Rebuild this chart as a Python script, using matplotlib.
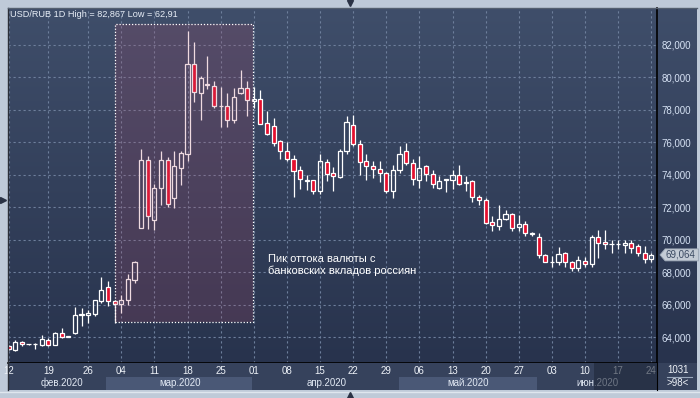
import matplotlib.pyplot as plt
import matplotlib.transforms as mtransforms
import numpy as np
from matplotlib.patches import Rectangle, Polygon

plt.rcParams['font.family'] = ['Liberation Sans', 'DejaVu Sans']

# OHLC, дневные свечи USD/RUB (12.02.2020 - 24.06.2020)
opens = [63.46, 63.20, 63.71, 63.57, 63.57, 63.53, 63.80, 63.53, 64.23, 64.00,
         64.23, 65.37, 65.34, 65.40, 66.23, 67.06, 66.23, 66.03, 66.28, 67.50,
         70.75, 74.89, 71.24, 73.21, 74.93, 72.60, 74.44, 75.30, 80.84, 79.06,
         79.55, 79.47, 78.24, 78.24, 77.37, 79.06, 79.37, 78.57, 78.69, 77.21,
         77.00, 76.06, 75.49, 75.00, 74.28, 73.62, 73.66, 73.03, 74.81, 74.09,
         73.86, 75.46, 77.09, 75.92, 74.83, 74.57, 74.38, 74.13, 73.00, 74.28,
         75.49, 74.73, 73.66, 74.52, 74.07, 73.21, 73.68, 73.66, 74.01, 73.50,
         73.64, 72.66, 72.45, 71.08, 70.85, 71.30, 71.61, 70.79, 70.95, 70.44,
         70.17, 69.05, 68.62, 68.60, 69.15, 68.63, 68.23, 68.70, 68.49, 70.14,
         69.83, 69.71, 69.71, 69.66, 69.77, 69.64, 69.19, 68.78]
highs = [63.50, 63.80, 63.75, 63.60, 63.62, 64.15, 63.95, 64.30, 64.57, 64.05,
         65.85, 65.77, 65.65, 66.30, 67.70, 67.46, 66.30, 66.60, 67.90, 68.69,
         75.60, 75.14, 73.46, 75.45, 75.10, 75.45, 75.45, 82.867, 82.20, 80.10,
         81.35, 79.75, 79.40, 79.03, 79.36, 80.43, 79.75, 79.40, 79.20, 77.91,
         77.50, 76.15, 76.00, 75.20, 74.52, 73.97, 73.70, 75.30, 75.00, 74.46,
         75.57, 77.60, 77.66, 76.15, 75.30, 74.85, 74.85, 74.20, 74.62, 75.80,
         75.95, 75.00, 75.15, 74.62, 74.30, 73.90, 73.70, 74.30, 74.60, 73.90,
         73.70, 72.75, 72.55, 71.45, 72.12, 71.80, 71.65, 71.50, 71.16, 70.50,
         70.40, 69.10, 68.98, 69.55, 69.25, 68.70, 68.98, 68.94, 70.30, 70.60,
         70.58, 69.97, 70.00, 70.00, 70.00, 69.75, 69.60, 69.15]
lows = [63.20, 63.15, 63.45, 63.50, 63.24, 63.45, 63.45, 63.50, 63.95, 63.98,
        64.20, 64.70, 64.85, 65.30, 66.10, 65.90, 64.88, 65.50, 65.95, 67.30,
        70.70, 70.65, 70.58, 72.12, 72.00, 71.95, 73.37, 74.85, 78.48, 77.35,
        79.30, 78.10, 76.94, 76.94, 77.19, 79.00, 77.62, 78.14, 77.10, 76.43,
        75.80, 74.98, 74.84, 72.63, 73.10, 73.05, 72.80, 72.84, 73.60, 73.00,
        73.80, 75.26, 75.75, 74.00, 73.70, 73.80, 73.55, 72.88, 72.57, 74.10,
        74.60, 73.40, 73.20, 73.60, 73.20, 73.15, 72.93, 73.10, 73.40, 73.00,
        72.30, 72.12, 70.95, 70.54, 70.60, 71.20, 70.54, 70.54, 70.20, 70.25,
        68.90, 68.60, 68.29, 68.45, 68.30, 68.08, 68.10, 68.30, 68.30, 68.90,
        69.45, 69.20, 69.44, 69.20, 69.20, 68.98, 68.55, 68.60]
closes = [63.26, 63.71, 63.57, 63.58, 63.58, 63.86, 63.53, 64.23, 64.02, 64.05,
          65.34, 65.38, 65.46, 66.28, 66.89, 66.23, 66.03, 66.28, 67.55, 68.60,
          74.89, 71.46, 73.21, 74.89, 72.23, 74.52, 75.37, 80.84, 79.10, 79.98,
          79.62, 78.22, 78.26, 77.37, 78.81, 79.37, 78.58, 78.69, 77.15, 76.53,
          75.96, 75.46, 75.00, 74.23, 73.74, 73.66, 72.98, 74.83, 74.03, 73.93,
          75.49, 77.25, 75.88, 74.79, 74.54, 74.38, 74.13, 73.00, 74.32, 75.30,
          74.73, 73.77, 74.42, 74.07, 73.46, 73.64, 73.72, 74.01, 73.46, 73.56,
          72.63, 72.46, 71.03, 70.89, 71.30, 71.61, 70.75, 70.95, 70.42, 70.32,
          69.05, 68.63, 68.64, 69.10, 68.63, 68.23, 68.74, 68.49, 70.14, 69.77,
          69.72, 69.73, 69.73, 69.80, 69.46, 69.15, 68.78, 69.064]

day_ticks = [0, 6, 12, 17, 22, 27, 32, 37, 42, 47, 52, 57, 62, 67, 72, 77, 82, 87, 92, 97]
day_labels = ['12', '19', '26', '04', '11', '18', '25', '01', '08', '15',
              '22', '29', '06', '13', '20', '27', '03', '10', '17', '24']
month_pos = [8.0, 25.9, 48.0, 69.4, 88.8]
month_labels = ['фев.2020', 'мар.2020', 'апр.2020', 'май.2020', 'июн.2020']
month_bands = [(14.7, 36.8), (58.9, 79.8)]
price_ticks = [64, 66, 68, 70, 72, 74, 76, 78, 80, 82]
last_price = 69.064
zone = (16.0, 36.9, 64.9, 83.3)  # x0, x1, y0, y1
note = 'Пик оттока валюты с\nбанковских вкладов россиян'
title = 'USD/RUB 1D High = 82,867 Low = 62,91'

W, H = 700, 398
XMIN, XMAX = -0.1, 97.86
YMIN, YMAX = 62.4, 84.28


def box(x0, y0, x1, y1):
    return [x0 / W, 1 - y1 / H, (x1 - x0) / W, (y1 - y0) / H]


fig = plt.figure(figsize=(7, 3.98), dpi=100)
fig.patch.set_facecolor('#bfcad8')

# фон с градиентом (график + правая шкала)
bg = fig.add_axes(box(8, 8, 697, 363))
grad = np.linspace(0, 1, 256).reshape(-1, 1)
top_c = np.array([63, 78, 106]) / 255
bot_c = np.array([40, 51, 77]) / 255
img = top_c * (1 - grad[..., None]) + bot_c * grad[..., None]
bg.imshow(img.reshape(256, 1, 3), aspect='auto', extent=[0, 1, 0, 1])
bg.set_axis_off()

ax = fig.add_axes(box(8, 8, 657, 363))
ax.set_facecolor('none')
ax.set_xlim(XMIN, XMAX)
ax.set_ylim(YMIN, YMAX)

# сетка
for p in price_ticks:
    ax.axhline(p, color='#6e7f9c', lw=0.8, ls=(0, (2, 2.5)), zorder=1)
for d in day_ticks:
    ax.axvline(d, color='#6e7f9c', lw=0.8, ls=(0, (2, 2.5)), zorder=1)

# свечи
xs = np.arange(len(closes))
bw = 0.62
for x, o, h, l, c in zip(xs, opens, highs, lows, closes):
    top = max(o, c)
    bot = min(o, c)
    ax.plot([x, x], [top, h], color='white', lw=0.9, zorder=3, solid_capstyle='butt')
    ax.plot([x, x], [l, bot], color='white', lw=0.9, zorder=3, solid_capstyle='butt')
    fc = '#e4102e' if c < o else 'none'
    ax.add_patch(Rectangle((x - bw / 2, bot), bw, max(top - bot, 0.02),
                           facecolor=fc, edgecolor='white', lw=0.9, zorder=4))

# выделенная зона
ax.add_patch(Rectangle((zone[0], zone[2]), zone[1] - zone[0], zone[3] - zone[2],
                       facecolor=(0.7, 0.28, 0.4, 0.2), edgecolor='none', zorder=5))
ax.add_patch(Rectangle((zone[0], zone[2]), zone[1] - zone[0], zone[3] - zone[2],
                       facecolor='none', edgecolor='white', lw=0.9,
                       ls=(0, (1, 1.5)), zorder=6))

ax.text(39.1, 69.1, note, color='white', fontsize=8, va='top', ha='left',
        linespacing=1.2, zorder=7)
ax.text(0.2, 83.85, title, color='#e8eef7', fontsize=6.6, va='center', ha='left', zorder=7)

# правая шкала
ax.yaxis.tick_right()
ax.set_yticks(price_ticks)
ax.set_yticklabels([f'{p:.3f}'.replace('.', ',') for p in price_ticks])
ax.tick_params(axis='y', length=0, pad=3, labelsize=7, labelcolor='#d6e2f4')
ax.set_xticks([])
for s in ['top', 'left']:
    ax.spines[s].set_visible(False)
ax.spines['right'].set_color('black')
ax.spines['bottom'].set_color('black')
ax.spines['right'].set_linewidth(1.2)
ax.spines['bottom'].set_linewidth(1.2)

# метка последней цены
tr = mtransforms.blended_transform_factory(ax.transAxes, ax.transData)
dy = 0.37
tag = Polygon([(1.0046, last_price), (1.0125, last_price + dy), (1.064, last_price + dy),
               (1.064, last_price - dy), (1.0125, last_price - dy)], closed=True,
              transform=tr, facecolor='#c3cbd5', edgecolor='#9aa6b5', lw=0.6,
              clip_on=False, zorder=8)
ax.add_patch(tag)
ax.text(1.0135, last_price, f'{last_price:.3f}'.replace('.', ','), transform=tr,
        fontsize=7, color='#3b4a62', va='center', ha='left', clip_on=False, zorder=9)

# шкала дат
dax = fig.add_axes(box(8, 363, 657, 390))
dax.set_facecolor('#36425c')
dax.set_xlim(XMIN, XMAX)
dax.set_ylim(0, 1)
for a, b in month_bands:
    dax.axvspan(a, b, ymin=0, ymax=0.49, color='#4a5876', lw=0, zorder=1)
for d, lbl in zip(day_ticks, day_labels):
    dax.text(d, 0.7, lbl, color='#eef2f8', fontsize=7, ha='center', va='center', zorder=2)
for m, lbl in zip(month_pos, month_labels):
    dax.text(m, 0.26, lbl, color='#e2e9f4', fontsize=7, ha='center', va='center', zorder=2)
dax.axvspan(88.35, XMAX, color='#1f2839', alpha=0.6, lw=0, zorder=3)
dax.set_xticks([])
dax.set_yticks([])
for s in dax.spines.values():
    s.set_visible(False)

# правый нижний угол
rax = fig.add_axes(box(657, 363, 697, 390))
rax.set_facecolor('#36425c')
rax.set_xlim(0, 1)
rax.set_ylim(0, 1)
rax.text(0.52, 0.74, '1031', color='#eef2f8', fontsize=7, ha='center', va='center')
rax.text(0.52, 0.27, '>98<', color='#eef2f8', fontsize=7, ha='center', va='center')
rax.plot([0.26, 0.88], [0.5, 0.5], color='#9aa8bc', lw=0.8)
rax.set_xticks([])
rax.set_yticks([])
for s in rax.spines.values():
    s.set_visible(False)
rax.spines['left'].set_visible(True)
rax.spines['left'].set_color('black')

# рамка и маркеры
over = fig.add_axes([0, 0, 1, 1])
over.set_facecolor('none')
over.set_xlim(0, W)
over.set_ylim(H, 0)
over.set_axis_off()
over.plot([7.5, 7.5], [8, 390], color='#2b2f38', lw=1)
over.plot([8, 697], [7.5, 7.5], color='#55606f', lw=1)
over.plot([0, W], [392, 392], color='#dfe6ee', lw=1)
over.plot([350], [3], marker='v', color='#2b3345', ms=5)
over.plot([350], [395], marker='^', color='#2b3345', ms=5)
over.plot([3], [200], marker='>', color='#2b3345', ms=4)

fig.savefig('out.png', dpi=100, facecolor=fig.get_facecolor())
